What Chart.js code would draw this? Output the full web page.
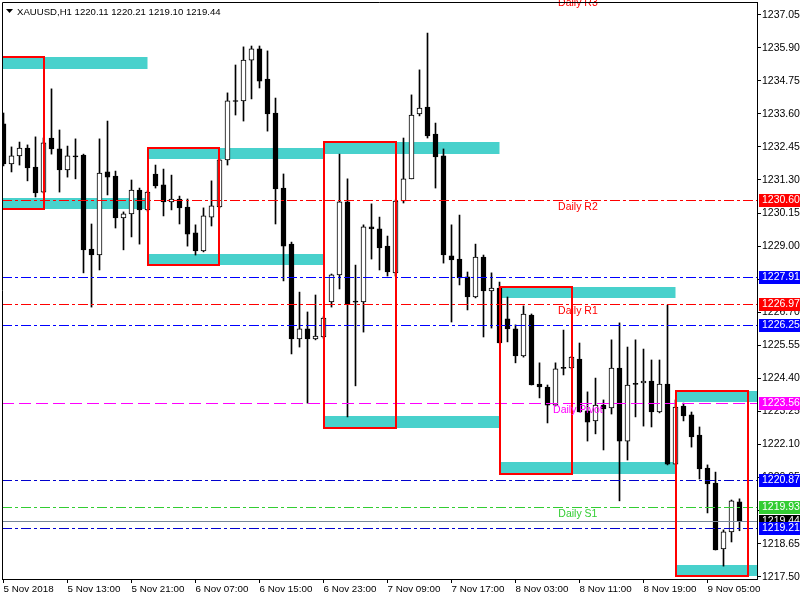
<!DOCTYPE html>
<html>
<head>
<meta charset="utf-8">
<script src="https://cdn.jsdelivr.net/npm/chart.js@4.4.0/dist/chart.umd.min.js"></script>
<style>
  html, body { margin: 0; padding: 0; background: #fff; }
</style>
</head>
<body>
<canvas id="chart" width="800" height="600"></canvas>
<script>
const symbol = 'XAUUSD,H1';

// hourly candles, left to right
const opens = [1233.25,1231.86,1232.14,1232.41,1231.75,1230.88,1232.76,1232.38,1231.65,1232.14,
  1232.17,1228.90,1228.69,1231.58,1231.44,1229.98,1230.12,1230.95,1230.26,1231.51,
  1231.13,1230.54,1230.64,1230.36,1229.46,1228.83,1230.01,1230.36,1232.00,1234.05,
  1234.05,1235.47,1235.86,1234.81,1233.63,1231.02,1229.07,1225.77,1226.12,1225.77,
  1225.84,1227.06,1228.00,1230.54,1227.06,1227.06,1229.67,1229.60,1229.00,1228.07,
  1230.57,1231.34,1233.60,1233.84,1232.90,1232.14,1228.66,1228.55,1227.93,1227.23,
  1228.62,1227.44,1227.54,1226.47,1226.12,1225.18,1226.60,1224.20,1224.10,1223.47,
  1224.76,1224.76,1225.07,1223.27,1222.92,1223.47,1223.37,1224.76,1222.22,1224.20,
  1224.24,1224.31,1223.23,1224.20,1221.42,1223.44,1223.13,1222.43,1221.28,1220.76,
  1218.47,1219.06,1220.11];
const highs = [1233.63,1232.45,1232.62,1232.52,1232.80,1232.76,1234.47,1233.04,1232.48,1232.73,
  1232.20,1229.77,1232.73,1233.35,1231.61,1230.19,1231.30,1231.02,1230.92,1231.82,
  1231.68,1231.47,1230.74,1230.64,1229.74,1230.33,1231.27,1232.03,1234.33,1235.30,
  1235.93,1235.96,1235.96,1235.79,1234.15,1231.51,1229.14,1227.40,1226.71,1227.30,
  1226.54,1228.03,1232.20,1231.34,1228.34,1229.74,1230.47,1230.01,1229.35,1230.60,
  1232.76,1234.26,1235.13,1236.41,1233.28,1232.38,1229.74,1230.08,1228.10,1229.07,
  1228.69,1228.07,1227.75,1227.23,1226.26,1226.92,1226.64,1224.94,1224.17,1224.94,
  1226.08,1225.17,1225.63,1223.93,1224.41,1223.65,1225.74,1226.33,1225.49,1225.74,
  1225.42,1225.04,1225.04,1226.95,1223.65,1223.54,1223.23,1222.71,1221.39,1221.14,
  1219.13,1220.17,1220.21];
const lows = [1231.79,1231.58,1231.82,1231.27,1230.71,1230.85,1232.20,1230.88,1231.40,1231.34,
  1228.07,1226.88,1228.17,1230.78,1229.63,1228.87,1229.32,1229.07,1230.22,1231.02,
  1230.05,1230.26,1229.77,1229.00,1228.69,1228.80,1229.70,1230.33,1231.82,1233.56,
  1233.35,1234.12,1234.50,1233.00,1229.77,1227.79,1225.25,1225.49,1223.54,1225.74,
  1225.80,1226.88,1227.51,1223.06,1224.14,1226.01,1228.55,1228.17,1227.96,1227.96,
  1230.50,1231.34,1233.53,1232.76,1231.02,1228.41,1226.36,1227.65,1226.78,1227.20,
  1225.84,1226.15,1225.63,1225.67,1224.94,1225.14,1224.17,1223.72,1222.85,1223.44,
  1224.52,1224.73,1223.23,1222.22,1222.47,1221.91,1223.16,1220.14,1221.56,1223.06,
  1222.74,1222.71,1223.20,1221.39,1221.42,1222.92,1222.01,1220.90,1219.72,1218.43,
  1217.87,1218.71,1219.10];
const closes = [1231.86,1232.14,1232.41,1231.72,1230.85,1232.59,1232.38,1231.65,1232.14,1232.10,
  1228.87,1228.69,1231.54,1231.40,1229.98,1230.12,1230.95,1230.26,1230.88,1231.09,
  1230.54,1230.64,1230.33,1229.42,1228.83,1230.05,1230.40,1232.00,1234.05,1234.03,
  1235.47,1235.86,1234.74,1233.60,1230.99,1229.00,1225.77,1226.12,1225.77,1225.87,
  1226.50,1228.00,1230.54,1226.99,1227.05,1229.67,1229.60,1228.94,1228.10,1230.57,
  1231.34,1233.56,1233.80,1232.83,1232.10,1228.69,1228.52,1227.89,1227.23,1228.62,
  1227.44,1227.54,1225.63,1226.12,1225.18,1226.64,1224.17,1224.10,1223.47,1224.73,
  1224.75,1225.14,1223.23,1222.88,1223.47,1223.34,1224.76,1222.22,1224.17,1224.19,
  1224.31,1223.23,1224.20,1221.42,1223.40,1223.09,1222.36,1221.25,1220.73,1218.43,
  1219.06,1220.14,1219.44];

// time axis
const timeTickBars = [0, 8, 16, 24, 32, 40, 48, 56, 64, 72, 80, 88];
const timeLabels = ['5 Nov 2018', '5 Nov 13:00', '5 Nov 21:00', '6 Nov 07:00', '6 Nov 15:00', '6 Nov 23:00',
  '7 Nov 09:00', '7 Nov 17:00', '8 Nov 03:00', '8 Nov 11:00', '8 Nov 19:00', '9 Nov 05:00'];

// price axis
const priceTicks = [1217.50, 1218.65, 1219.80, 1220.95, 1222.10, 1223.25, 1224.40, 1225.55, 1226.70,
  1227.85, 1229.00, 1230.15, 1231.30, 1232.45, 1233.60, 1234.75, 1235.90, 1237.05];

// horizontal levels
const levelNames = ['Daily R3', 'Daily R2', '', 'Daily R1', '', 'Daily Pivot', '', 'Daily S1', '', ''];
const levelValues = [1237.70, 1230.60, 1227.91, 1226.97, 1226.25, 1223.56, 1220.87, 1219.93, 1219.44, 1219.21];
const levelKinds = ['res', 'res', 'blue', 'res', 'blue', 'pivot', 'navy', 'sup', 'bid', 'navy'];

// supply / demand zones (bar index from..to, price high..low)
const zoneFrom = [-4, -4, 18, 18, 40, 40, 62, 62, 84, 84];
const zoneTo = [18, 18, 40, 40, 62, 62, 84, 84, 106, 106];
const zoneHigh = [1235.58, 1230.67, 1232.41, 1228.73, 1232.62, 1223.09, 1227.58, 1221.49, 1223.96, 1217.91];
const zoneLow = [1235.16, 1230.29, 1232.03, 1228.34, 1232.20, 1222.67, 1227.20, 1221.07, 1223.58, 1217.53];

// outlined boxes
const boxFrom = [-4, 18, 40, 62, 84];
const boxTo = [5, 27, 49, 71, 93];
const boxHigh = [1235.58, 1232.41, 1232.62, 1227.58, 1223.96];
const boxLow = [1230.29, 1228.34, 1222.67, 1221.07, 1217.53];

const X_MIN = -0.1875, X_MAX = 94.1875;
const Y_MIN = 1217.422, Y_MAX = 1237.491;
const LABEL_BAR = 71.8;

const FAMILY = "'Liberation Sans', Arial, sans-serif";
const FONT = '10.5px ' + FAMILY;
const styles = {
  res:   { line: '#ff0000', box: '#ff0000', dash: [10, 3, 3, 3], text: '#fff' },
  blue:  { line: '#0000ff', box: '#0000ff', dash: [10, 3, 3, 3], text: '#fff' },
  navy:  { line: '#0000cd', box: '#0000ff', dash: [10, 3, 3, 3], text: '#fff' },
  pivot: { line: '#ff00ff', box: '#ff00ff', dash: [12, 5], text: '#fff' },
  sup:   { line: '#32cd32', box: '#32cd32', dash: [10, 3, 3, 3], text: '#fff' },
  bid:   { line: '#778899', box: '#000000', dash: [], text: '#fff' }
};

Chart.defaults.font.family = FAMILY;
Chart.defaults.font.size = 10.5;
Chart.defaults.color = '#000';

const bodies = opens.map((o, i) => ({ x: i, y: [o, closes[i]] }));
const wicks = opens.map((o, i) => ({ x: i, y: [lows[i], highs[i]] }));

function noPad(s) {
  s.paddingTop = 0; s.paddingBottom = 0; s.paddingLeft = 0; s.paddingRight = 0;
}

function clipArea(ctx, a) {
  ctx.beginPath();
  ctx.rect(a.left, a.top, a.right - a.left, a.bottom - a.top);
  ctx.clip();
}

const zonesPlugin = {
  id: 'zones',
  beforeDatasetsDraw(chart) {
    const { ctx, chartArea: a, scales: { x, y } } = chart;
    ctx.save();
    clipArea(ctx, a);
    ctx.fillStyle = '#48d1cc';
    zoneFrom.forEach((f, i) => {
      const x1 = x.getPixelForValue(f), x2 = x.getPixelForValue(zoneTo[i]);
      const y1 = Math.round(y.getPixelForValue(zoneHigh[i])), y2 = Math.round(y.getPixelForValue(zoneLow[i]));
      ctx.fillRect(x1, y1, x2 - x1, y2 - y1);
    });
    ctx.restore();
  }
};

const overlayPlugin = {
  id: 'overlay',
  afterDatasetsDraw(chart) {
    const { ctx, chartArea: a, scales: { x, y } } = chart;
    ctx.save();
    clipArea(ctx, a);

    // pivot levels, snapped to the pixel grid
    ctx.lineWidth = 1;
    levelValues.forEach((v, i) => {
      const st = styles[levelKinds[i]];
      const py = Math.round(y.getPixelForValue(v)) + 0.5;
      ctx.strokeStyle = st.line;
      ctx.setLineDash(st.dash);
      ctx.beginPath();
      ctx.moveTo(a.left, py);
      ctx.lineTo(a.right, py);
      ctx.stroke();
    });
    ctx.setLineDash([]);

    ctx.strokeStyle = '#ff0000';
    ctx.lineWidth = 2;
    boxFrom.forEach((f, i) => {
      const x1 = Math.round(x.getPixelForValue(f)), x2 = Math.round(x.getPixelForValue(boxTo[i]));
      const y1 = Math.round(y.getPixelForValue(boxHigh[i])), y2 = Math.round(y.getPixelForValue(boxLow[i]));
      ctx.strokeRect(x1, y1, x2 - x1, y2 - y1);
    });
    ctx.restore();

    // level captions
    ctx.save();
    ctx.font = FONT;
    ctx.textAlign = 'center';
    ctx.textBaseline = 'middle';
    levelNames.forEach((n, i) => {
      if (!n) return;
      ctx.fillStyle = styles[levelKinds[i]].line;
      ctx.fillText(n, x.getPixelForValue(LABEL_BAR), Math.round(y.getPixelForValue(levelValues[i])) + 7);
    });
    ctx.restore();

    // frame top / left
    ctx.save();
    ctx.strokeStyle = '#000';
    ctx.lineWidth = 1;
    ctx.beginPath();
    ctx.moveTo(a.left + 0.5, a.bottom);
    ctx.lineTo(a.left + 0.5, a.top + 0.5);
    ctx.lineTo(a.right, a.top + 0.5);
    ctx.stroke();
    ctx.restore();
  },
  afterDraw(chart) {
    const { ctx, chartArea: a, scales: { y } } = chart;
    ctx.save();
    ctx.font = FONT;
    ctx.textBaseline = 'middle';
    ctx.textAlign = 'left';
    levelValues.forEach((v, i) => {
      const py = y.getPixelForValue(v);
      if (py < a.top || py > a.bottom) return;
      const st = styles[levelKinds[i]];
      ctx.fillStyle = st.box;
      ctx.fillRect(a.right + 2, Math.round(py) - 6, 800 - a.right - 2, 13);
      ctx.fillStyle = st.text;
      ctx.fillText(v.toFixed(2), a.right + 5, Math.round(py) + 0.5);
    });

    // header
    const last = opens.length - 1;
    ctx.fillStyle = '#000';
    ctx.beginPath();
    ctx.moveTo(6, 9);
    ctx.lineTo(13, 9);
    ctx.lineTo(9.5, 13);
    ctx.closePath();
    ctx.fill();
    ctx.font = '9.6px ' + FAMILY;
    ctx.textBaseline = 'alphabetic';
    ctx.fillText(symbol + ' ' + [opens[last], highs[last], lows[last], closes[last]].map(v => v.toFixed(2)).join(' '), 17, 14.5);
    ctx.restore();
  }
};

new Chart(document.getElementById('chart'), {
  type: 'bar',
  data: {
    datasets: [
      {
        label: 'body',
        data: bodies,
        backgroundColor: bodies.map(b => b.y[1] >= b.y[0] ? '#ffffff' : '#000000'),
        borderColor: '#000',
        borderWidth: 1,
        borderSkipped: false,
        barThickness: 5,
        minBarLength: 1,
        grouped: false,
        order: 1
      },
      {
        label: 'wick',
        data: wicks,
        backgroundColor: '#000',
        borderWidth: 0,
        barThickness: 1,
        grouped: false,
        order: 2
      }
    ]
  },
  options: {
    responsive: false,
    animation: false,
    events: [],
    layout: { padding: { left: 2, top: 2, right: 0, bottom: 0 } },
    plugins: { legend: { display: false }, tooltip: { enabled: false } },
    scales: {
      x: {
        type: 'linear',
        position: 'bottom',
        min: X_MIN,
        max: X_MAX,
        offset: false,
        bounds: 'data',
        afterBuildTicks: s => { s.ticks = timeTickBars.map(v => ({ value: v })); },
        afterFit: s => { s.height = 21; noPad(s); },
        grid: { drawOnChartArea: false, drawTicks: true, tickLength: 4, color: '#000', offset: false },
        border: { color: '#000', width: 1 },
        ticks: { align: 'start', maxRotation: 0, autoSkip: false, padding: 0, color: '#000',
          font: { size: 9.8 }, callback: (v, i) => timeLabels[i] }
      },
      y: {
        type: 'linear',
        position: 'right',
        min: Y_MIN,
        max: Y_MAX,
        bounds: 'data',
        beginAtZero: false,
        afterBuildTicks: s => { s.ticks = priceTicks.map(v => ({ value: v })); },
        afterFit: s => { s.width = 43; noPad(s); },
        grid: { drawOnChartArea: false, drawTicks: true, tickLength: 4, color: '#000' },
        border: { color: '#000', width: 1 },
        ticks: { padding: 1, autoSkip: false, color: '#000', callback: v => v.toFixed(2) }
      }
    }
  },
  plugins: [zonesPlugin, overlayPlugin]
});
</script>
</body>
</html>
